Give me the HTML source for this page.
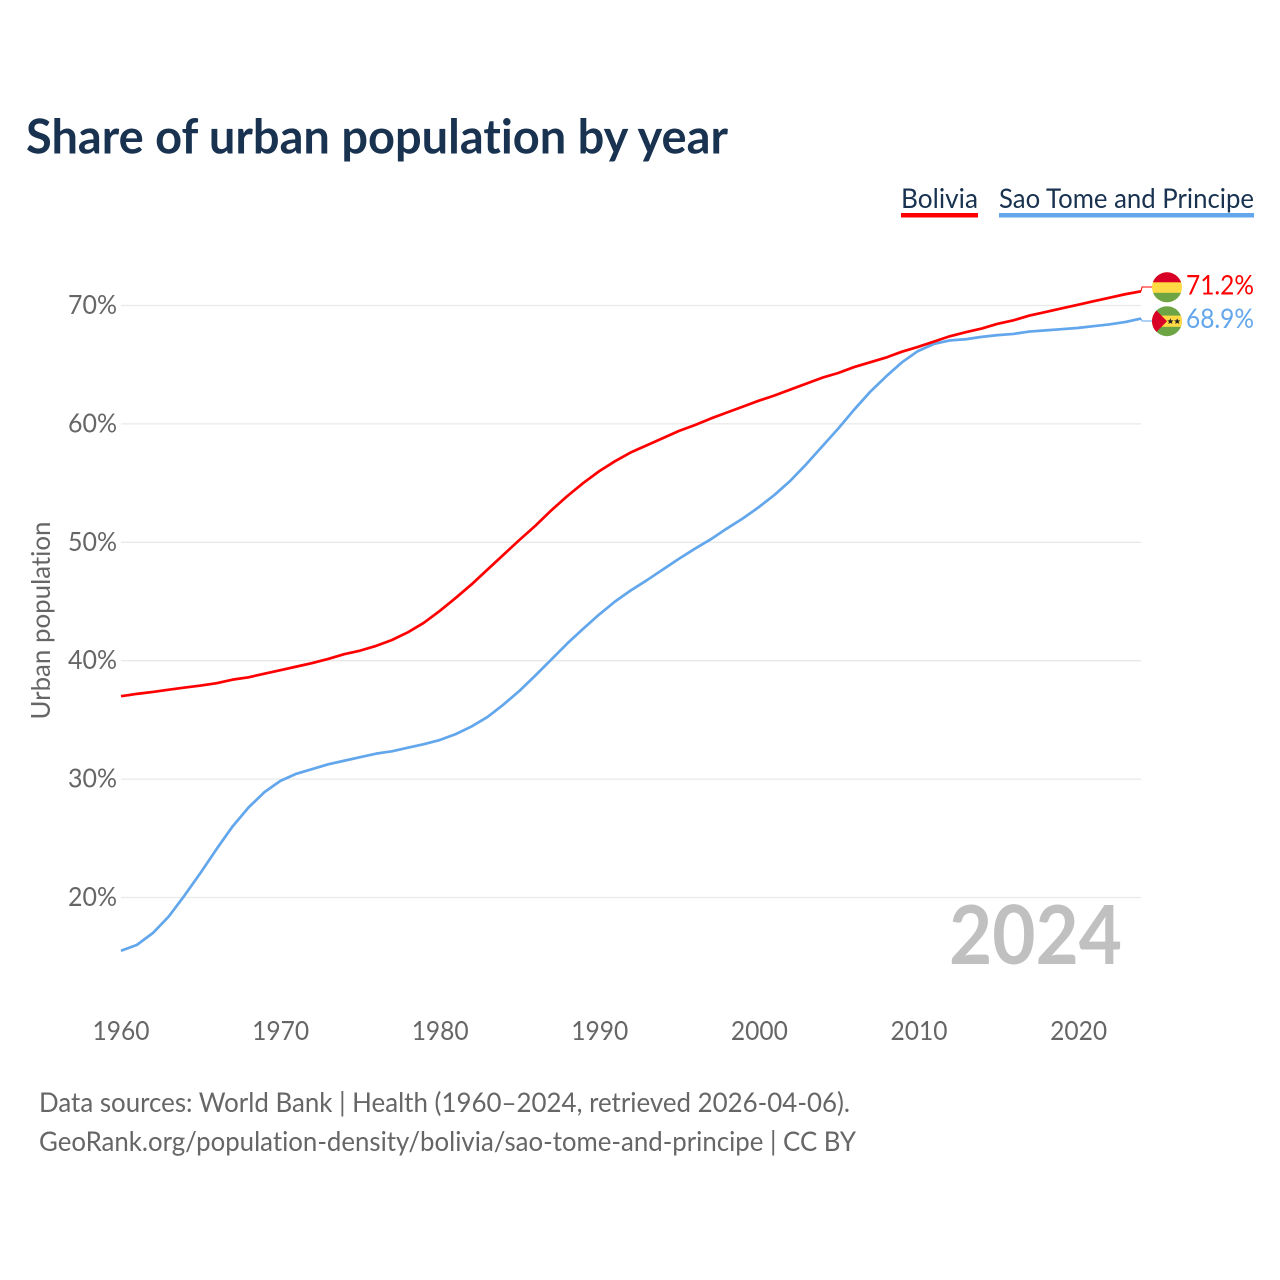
<!DOCTYPE html>
<html lang="en">
<head>
<meta charset="utf-8">
<title>Share of urban population by year</title>
<style>
html,body{margin:0;padding:0;background:#fff;width:1280px;height:1280px;overflow:hidden}
svg{display:block;font-family:"Lato","Carlito","Liberation Sans",sans-serif;font-variant-ligatures:none}
</style>
</head>
<body>
<svg id="chart" xmlns="http://www.w3.org/2000/svg" width="1280" height="1280" viewBox="0 0 1280 1280">
  <defs>
    <clipPath id="flag-clip-a"><circle cx="1167" cy="287.3" r="15"/></clipPath>
    <clipPath id="flag-clip-b"><circle cx="1167" cy="321.2" r="15"/></clipPath>
  </defs>
  <text x="26" y="153.5" font-size="48" font-weight="700" fill="#183250" textLength="702" lengthAdjust="spacingAndGlyphs">Share of urban population by year</text>

  <g>
    <g>
      <text x="901" y="208" font-size="27" fill="#183250" textLength="77" lengthAdjust="spacingAndGlyphs">Bolivia</text>
      <rect x="901" y="213" width="77" height="4.5" fill="#ff0000"/>
    </g>
    <g>
      <text x="999" y="208" font-size="27" fill="#183250" textLength="255" lengthAdjust="spacingAndGlyphs">Sao Tome and Principe</text>
      <rect x="999" y="213" width="255" height="4.5" fill="#62a6ec"/>
    </g>
  </g>

  <g id="grid"></g>
  <g id="yticks"></g>
  <g id="xticks"></g>
  <text transform="translate(50,620.5) rotate(-90)" text-anchor="middle" font-size="26" fill="#666666" textLength="198" lengthAdjust="spacingAndGlyphs">Urban population</text>

  <text x="949" y="964" font-size="81" font-weight="700" fill="#c0c0c0" textLength="173" lengthAdjust="spacingAndGlyphs">2024</text>

  <g id="series"></g>
  <g id="end-labels"></g>

  <g clip-path="url(#flag-clip-a)">
    <rect x="1152" y="272" width="30" height="31" fill="#ffda44"/>
    <rect x="1152" y="272" width="30" height="10.3" fill="#d80027"/>
    <rect x="1152" y="292.8" width="30" height="10.5" fill="#6da544"/>
  </g>
  <g clip-path="url(#flag-clip-b)">
    <rect x="1152" y="306" width="30" height="31" fill="#6da544"/>
    <rect x="1152" y="315.6" width="30" height="11.2" fill="#ffda44"/>
    <polygon points="1152,306 1167,321.2 1152,336.5" fill="#d80027"/>
    <polygon points="1170.4,318.2 1171.3,320.4 1173.6,320.4 1171.8,321.8 1172.5,324 1170.4,322.7 1168.4,324 1169,321.8 1167.2,320.4 1169.5,320.4" fill="#222222"/>
    <polygon points="1177.2,318.2 1178.1,320.4 1180.4,320.4 1178.6,321.8 1179.3,324 1177.2,322.7 1175.2,324 1175.8,321.8 1174,320.4 1176.3,320.4" fill="#222222"/>
  </g>

  <text x="39" y="1112" font-size="27" fill="#666666" textLength="811" lengthAdjust="spacingAndGlyphs">Data sources: World Bank | Health (1960–2024, retrieved 2026-04-06).</text>
  <text x="39" y="1151" font-size="27" fill="#666666" textLength="817" lengthAdjust="spacingAndGlyphs">GeoRank.org/population-density/bolivia/sao-tome-and-principe | CC BY</text>
</svg>
<script>
const startYear = 1960;
const yTickValues = [20, 30, 40, 50, 60, 70];
const xTickYears = [1960, 1970, 1980, 1990, 2000, 2010, 2020];
const boliviaValues = [
  37.0, 37.2, 37.36, 37.55, 37.73, 37.9, 38.1, 38.4, 38.6, 38.9,
  39.2, 39.5, 39.8, 40.15, 40.55, 40.85, 41.25, 41.75, 42.4, 43.2,
  44.2, 45.3, 46.45, 47.7, 48.95, 50.2, 51.4, 52.7, 53.9, 55.0,
  56.0, 56.85, 57.6, 58.2, 58.8, 59.4, 59.9, 60.45, 60.95, 61.45,
  61.95, 62.4, 62.9, 63.4, 63.9, 64.3, 64.8, 65.2, 65.6, 66.1,
  66.5, 66.95, 67.4, 67.75, 68.05, 68.45, 68.75, 69.15, 69.45, 69.75,
  70.05, 70.35, 70.65, 70.95, 71.2
];
const saoTomeValues = [
  15.5, 16.0, 17.0, 18.4, 20.2, 22.1, 24.1, 26.0, 27.6, 28.9,
  29.85, 30.45, 30.85, 31.25, 31.55, 31.85, 32.15, 32.35, 32.65, 32.95,
  33.3, 33.8, 34.45, 35.25, 36.3, 37.45, 38.75, 40.1, 41.45, 42.7,
  43.9, 45.0, 45.95, 46.8, 47.7, 48.6, 49.45, 50.25, 51.15, 52.0,
  52.95, 54.0, 55.2, 56.6, 58.1, 59.6, 61.2, 62.7, 64.0, 65.2,
  66.15, 66.75, 67.05, 67.15, 67.35, 67.5, 67.6, 67.8, 67.9, 68.0,
  68.1, 68.25, 68.4, 68.6, 68.9
];
const boliviaLabel = "71.2%";
const saoTomeLabel = "68.9%";

const NS = "http://www.w3.org/2000/svg";
const xScale = function (year) { return 121 + (year - 1960) * (1020 / 64); };
const xLabelScale = function (year) { return 121 + (year - 1960) * 15.96; };
const yScale = function (value) { return 897.5 - (value - 20) * (592 / 50); };

function make(tag, parent, attrs, text) {
  const el = document.createElementNS(NS, tag);
  Object.keys(attrs).forEach(function (k) { el.setAttribute(k, attrs[k]); });
  if (text !== undefined) el.textContent = text;
  parent.appendChild(el);
  return el;
}

const grid = document.getElementById("grid");
const yticks = document.getElementById("yticks");
yTickValues.forEach(function (v) {
  const line = make("line", grid, { x1: 121, x2: 1141, y1: yScale(v), y2: yScale(v), stroke: "#e9e9e9", "stroke-width": 1.3 });
  
  
  const label = make("text", yticks, { x: 117, y: yScale(v) + 8.5, "text-anchor": "end", "font-size": 26, fill: "#666666", textLength: 49, lengthAdjust: "spacingAndGlyphs" }, v + "%");
  
  
});

const xticks = document.getElementById("xticks");
xTickYears.forEach(function (y) {
  const label = make("text", xticks, { x: xLabelScale(y), y: 1040, "text-anchor": "middle", "font-size": 26, fill: "#666666", textLength: 57, lengthAdjust: "spacingAndGlyphs" }, String(y));
  
  
});

function linePoints(values) {
  return values.map(function (v, i) { return xScale(startYear + i).toFixed(2) + "," + yScale(v).toFixed(2); }).join(" ");
}

const seriesGroup = document.getElementById("series");
const saoLine = make("polyline", seriesGroup, { points: linePoints(saoTomeValues), fill: "none", stroke: "#62a6ec", "stroke-width": 2.7, "stroke-linejoin": "round" });


const bolLine = make("polyline", seriesGroup, { points: linePoints(boliviaValues), fill: "none", stroke: "#ff0000", "stroke-width": 2.7, "stroke-linejoin": "round" });



const endGroup = document.getElementById("end-labels");
const lastYear = startYear + boliviaValues.length - 1;
const endX = xScale(lastYear);

const boliviaEndY = yScale(boliviaValues[boliviaValues.length - 1]);
const conA = make("polyline", endGroup, { points: endX + "," + boliviaEndY + " " + (endX + 1) + ",287 1152,287", fill: "none", stroke: "#ff0000", "stroke-width": 1 });


const saoEndY = yScale(saoTomeValues[saoTomeValues.length - 1]);
const conB = make("polyline", endGroup, { points: endX + "," + saoEndY + " " + (endX + 1) + ",321 1152,321", fill: "none", stroke: "#62a6ec", "stroke-width": 1 });



const valA = make("text", endGroup, { x: 1186, y: 294.5, "font-size": 27, fill: "#ff0000", textLength: 68, lengthAdjust: "spacingAndGlyphs" }, boliviaLabel);


const valB = make("text", endGroup, { x: 1186, y: 328, "font-size": 27, fill: "#62a6ec", textLength: 68, lengthAdjust: "spacingAndGlyphs" }, saoTomeLabel);


</script>
</body>
</html>
